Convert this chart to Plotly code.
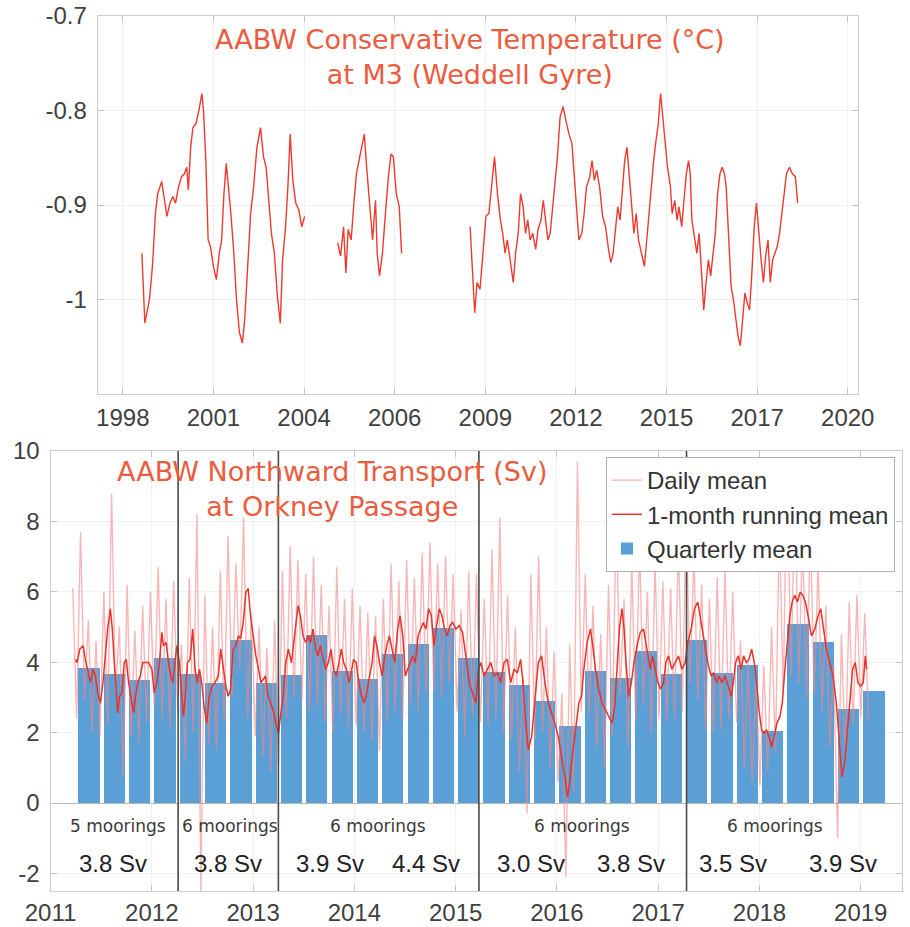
import numpy as np
import plotly.graph_objects as go

# ---------------- Top panel: AABW conservative temperature at M3 ----------------
temp_year = [
    1998.58, 1998.67, 1998.81, 1998.90, 1998.99, 1999.06, 1999.18, 1999.27, 1999.34, 1999.43,
    1999.52, 1999.60, 1999.69, 1999.78, 1999.87, 1999.94, 1999.99, 2000.06, 2000.13, 2000.22,
    2000.31, 2000.40, 2000.45, 2000.52, 2000.59, 2000.66, 2000.75, 2000.84, 2000.93, 2001.00,
    2001.07, 2001.14, 2001.21, 2001.28, 2001.37, 2001.45, 2001.54, 2001.63, 2001.70, 2001.79,
    2001.88, 2001.97, 2002.07, 2002.18, 2002.27, 2002.35, 2002.42, 2002.51, 2002.60, 2002.69,
    2002.78, 2002.85, 2002.94, 2003.01, 2003.08, 2003.16, 2003.25, 2003.34, 2003.43, 2003.52,
    None,
    2004.52, 2004.61, 2004.70, 2004.77, 2004.84, 2004.93, 2005.02, 2005.09, 2005.19, 2005.28,
    2005.33, 2005.40, 2005.49, 2005.58, 2005.67, 2005.72, 2005.79, 2005.88, 2005.97, 2006.06,
    2006.14, 2006.21, 2006.30, 2006.39, 2006.46,
    None,
    2008.54, 2008.63, 2008.68, 2008.75, 2008.84, 2008.93, 2009.02, 2009.11, 2009.19, 2009.28,
    2009.37, 2009.46, 2009.53, 2009.60, 2009.67, 2009.76, 2009.85, 2009.92, 2010.00, 2010.07,
    2010.15, 2010.22, 2010.29, 2010.36, 2010.44, 2010.53, 2010.60, 2010.69, 2010.76, 2010.83,
    2010.90, 2010.97, 2011.04, 2011.11, 2011.19, 2011.27, 2011.36, 2011.45, 2011.54, 2011.63,
    2011.68, 2011.75, 2011.84, 2011.93, 2012.00, 2012.07, 2012.17, 2012.24, 2012.31, 2012.38,
    2012.47, 2012.56, 2012.65, 2012.74, 2012.81, 2012.88, 2012.95, 2013.02, 2013.09, 2013.16,
    2013.23, 2013.30, 2013.37, 2013.44, 2013.51, 2013.58, 2013.65, 2013.74, 2013.83, 2013.90,
    2013.97, 2014.04, 2014.11, 2014.18, 2014.25, 2014.32, 2014.39, 2014.46, 2014.53, 2014.62,
    2014.67, 2014.75, 2014.82, 2014.88, 2014.96, 2015.03, 2015.10, 2015.17, 2015.22, 2015.27,
    2015.35, 2015.42, 2015.49, 2015.56, 2015.63, 2015.70, 2015.77, 2015.84, 2015.91, 2015.98,
    2016.05, 2016.12, 2016.19, 2016.26, 2016.31, 2016.39, 2016.46, 2016.53, 2016.60, 2016.67,
    2016.74, 2016.81, 2016.88, 2016.95, 2017.02, 2017.09, 2017.16, 2017.23, 2017.30, 2017.37,
    2017.44, 2017.51, 2017.58, 2017.65, 2017.72, 2017.79, 2017.86, 2017.93, 2018.00, 2018.07,
    2018.14, 2018.23, 2018.32, 2018.41, 2018.48,
]
temp_val = [
    -0.951, -1.025, -1.000, -0.965, -0.909, -0.888, -0.875, -0.898, -0.912, -0.898,
    -0.891, -0.898, -0.881, -0.870, -0.867, -0.860, -0.884, -0.839, -0.818, -0.814,
    -0.800, -0.782, -0.800, -0.853, -0.937, -0.944, -0.965, -0.979, -0.951, -0.937,
    -0.888, -0.856, -0.881, -0.909, -0.951, -1.000, -1.035, -1.046, -1.021, -0.958,
    -0.909, -0.881, -0.839, -0.818, -0.849, -0.860, -0.888, -0.930, -0.951, -0.996,
    -1.025, -0.958, -0.923, -0.881, -0.825, -0.874, -0.898, -0.905, -0.923, -0.912,
    None,
    -0.940, -0.954, -0.923, -0.972, -0.926, -0.937, -0.895, -0.867, -0.849, -0.832,
    -0.825, -0.860, -0.902, -0.937, -0.895, -0.951, -0.975, -0.951, -0.909, -0.870,
    -0.846, -0.849, -0.888, -0.902, -0.951,
    None,
    -0.923, -0.989, -1.014, -0.982, -0.989, -0.951, -0.912, -0.909, -0.881, -0.849,
    -0.888, -0.916, -0.930, -0.951, -0.937, -0.958, -0.982, -0.951, -0.930, -0.888,
    -0.902, -0.930, -0.916, -0.937, -0.930, -0.947, -0.926, -0.916, -0.895, -0.916,
    -0.937, -0.930, -0.902, -0.881, -0.849, -0.807, -0.796, -0.811, -0.825, -0.835,
    -0.860, -0.902, -0.937, -0.930, -0.909, -0.881, -0.870, -0.853, -0.874, -0.863,
    -0.881, -0.912, -0.923, -0.947, -0.961, -0.951, -0.923, -0.902, -0.916, -0.888,
    -0.853, -0.839, -0.867, -0.902, -0.930, -0.909, -0.937, -0.951, -0.965, -0.937,
    -0.909, -0.874, -0.853, -0.832, -0.814, -0.782, -0.811, -0.839, -0.860, -0.881,
    -0.909, -0.895, -0.916, -0.902, -0.923, -0.895, -0.867, -0.853, -0.867, -0.916,
    -0.937, -0.951, -0.930, -0.965, -1.011, -0.982, -0.958, -0.975, -0.951, -0.930,
    -0.888, -0.867, -0.860, -0.867, -0.881, -0.930, -0.986, -1.000, -1.021, -1.039,
    -1.049, -1.021, -0.993, -1.004, -1.011, -0.972, -0.923, -0.898, -0.930, -0.958,
    -0.982, -0.954, -0.937, -0.982, -0.958, -0.951, -0.944, -0.930, -0.909, -0.888,
    -0.867, -0.860, -0.867, -0.870, -0.898,
]
top_tick_pos = [1998, 2000.75, 2003.5, 2006.25, 2009, 2011.75, 2014.5, 2017.25, 2020]
top_tick_text = ["1998", "2001", "2004", "2006", "2009", "2012", "2015", "2017", "2020"]
temp_ticks = [-1.0, -0.9, -0.8, -0.7]
temp_tick_text = ["-1", "-0.9", "-0.8", "-0.7"]

# ---------------- Bottom panel: AABW transport at Orkney Passage ----------------
quarter_mid = [
    2011.375, 2011.625, 2011.875, 2012.125, 2012.375, 2012.625, 2012.875, 2013.125,
    2013.375, 2013.625, 2013.875, 2014.125, 2014.375, 2014.625, 2014.875, 2015.125,
    2015.375, 2015.625, 2015.875, 2016.125, 2016.375, 2016.625, 2016.875, 2017.125,
    2017.375, 2017.625, 2017.875, 2018.125, 2018.375, 2018.625, 2018.875, 2019.125,
]
quarterly_mean = [
    3.85, 3.67, 3.49, 4.13, 3.67, 3.42, 4.64, 3.42,
    3.63, 4.78, 3.75, 3.51, 4.23, 4.51, 4.96, 4.13,
    3.72, 3.34, 2.89, 2.19, 3.75, 3.56, 4.32, 3.67,
    4.63, 3.70, 3.92, 2.05, 5.09, 4.58, 2.68, 3.18,
]

# 1-month running mean: time in years since 2011-01-01, value in Sv
rm_t = [
    0.246, 0.262, 0.289, 0.322, 0.344, 0.367, 0.394, 0.420, 0.443, 0.466,
    0.492, 0.518, 0.541, 0.564, 0.591, 0.610, 0.630, 0.650, 0.663, 0.682,
    0.705, 0.728, 0.748, 0.771, 0.794, 0.820, 0.840, 0.860, 0.886, 0.912,
    0.935, 0.968, 1.001, 1.024, 1.050, 1.076, 1.099, 1.115, 1.142, 1.165,
    1.188, 1.207, 1.230, 1.247, 1.273, 1.296, 1.312, 1.332, 1.352, 1.378,
    1.404, 1.427, 1.450, 1.470, 1.493, 1.516, 1.542, 1.568, 1.594, 1.624,
    1.657, 1.680, 1.706, 1.732, 1.755, 1.778, 1.804, 1.831, 1.854, 1.877,
    1.903, 1.929, 1.952, 1.975, 2.001, 2.028, 2.054, 2.077, 2.100, 2.123,
    2.149, 2.172, 2.198, 2.224, 2.251, 2.270, 2.297, 2.323, 2.349, 2.379,
    2.402, 2.421, 2.444, 2.467, 2.493, 2.520, 2.546, 2.566, 2.592, 2.618,
    2.641, 2.664, 2.690, 2.717, 2.743, 2.769, 2.795, 2.822, 2.848, 2.871,
    2.894, 2.920, 2.946, 2.969, 2.992, 3.018, 3.045, 3.071, 3.097, 3.123,
    3.150, 3.176, 3.199, 3.222, 3.248, 3.274, 3.297, 3.320, 3.346, 3.373,
    3.399, 3.428, 3.451, 3.478, 3.504, 3.527, 3.550, 3.576, 3.602, 3.629,
    3.655, 3.681, 3.707, 3.734, 3.760, 3.786, 3.812, 3.839, 3.865, 3.891,
    3.917, 3.944, 3.970, 4.003, 4.035, 4.068, 4.101, 4.134, 4.167, 4.199,
    4.226, 4.249, 4.281, 4.314, 4.347, 4.380, 4.413, 4.445, 4.478, 4.511,
    4.544, 4.577, 4.610, 4.642, 4.665, 4.692, 4.718, 4.751, 4.783, 4.816,
    4.849, 4.882, 4.915, 4.947, 4.980, 5.013, 5.046, 5.079, 5.105, 5.125,
    5.151, 5.184, 5.217, 5.243, 5.266, 5.299, 5.331, 5.354, 5.381, 5.413,
    5.446, 5.479, 5.512, 5.545, 5.571, 5.594, 5.617, 5.643, 5.663, 5.682,
    5.709, 5.735, 5.761, 5.791, 5.823, 5.856, 5.889, 5.922, 5.945, 5.971,
    5.997, 6.024, 6.053, 6.076, 6.102, 6.135, 6.168, 6.201, 6.234, 6.266,
    6.293, 6.325, 6.358, 6.391, 6.424, 6.457, 6.490, 6.522, 6.549, 6.575,
    6.601, 6.627, 6.660, 6.693, 6.719, 6.742, 6.765, 6.791, 6.818, 6.844,
    6.870, 6.896, 6.923, 6.949, 6.972, 6.995, 7.021, 7.047, 7.070, 7.093,
    7.120, 7.146, 7.172, 7.202, 7.225, 7.251, 7.277, 7.300, 7.323, 7.349,
    7.375, 7.402, 7.428, 7.454, 7.480, 7.513, 7.546, 7.579, 7.605, 7.631,
    7.661, 7.694, 7.726, 7.759, 7.792, 7.815, 7.841, 7.867, 7.894, 7.920,
    7.946, 7.973, 7.999, 8.025, 8.045, 8.058,
]
rm_val = [
    4.08, 3.99, 4.37, 4.47, 4.08, 3.80, 3.42, 3.80, 3.61, 3.13,
    2.84, 3.42, 4.18, 4.94, 5.52, 4.94, 3.99, 3.03, 2.56, 3.03,
    3.13, 3.99, 4.08, 3.42, 3.03, 2.56, 3.03, 3.42, 3.61, 3.99,
    3.99, 3.99, 3.80, 3.13, 3.42, 3.99, 4.85, 4.47, 4.56, 3.99,
    3.61, 3.42, 3.99, 4.47, 3.99, 3.03, 2.46, 3.03, 3.99, 4.08,
    4.94, 3.80, 3.42, 3.80, 3.42, 2.75, 2.27, 3.03, 3.32, 3.42,
    3.61, 4.37, 3.80, 3.32, 3.03, 3.23, 4.37, 4.47, 4.75, 4.66,
    5.13, 5.99, 6.09, 5.32, 4.75, 4.18, 3.80, 3.42, 3.51, 3.61,
    3.03, 2.84, 2.65, 2.27, 1.98, 2.46, 3.03, 3.99, 4.37, 3.99,
    4.56, 5.13, 5.61, 5.32, 4.75, 4.56, 4.75, 4.56, 4.94, 4.37,
    4.18, 4.47, 4.18, 3.80, 3.99, 4.37, 3.80, 3.61, 3.99, 4.37,
    3.99, 3.80, 3.42, 3.70, 4.08, 3.99, 3.42, 3.03, 2.84, 3.13,
    3.61, 3.99, 4.75, 4.47, 3.99, 3.61, 4.08, 4.47, 4.75, 4.37,
    3.99, 4.94, 5.32, 4.75, 3.61, 3.80, 3.99, 4.18, 3.99, 4.75,
    4.94, 5.13, 4.94, 5.52, 5.32, 4.47, 5.04, 5.52, 5.32, 4.94,
    4.75, 5.04, 5.13, 4.94, 5.04, 4.85, 4.18, 3.42, 3.13, 2.84,
    3.80, 3.99, 3.61, 3.80, 3.99, 3.61, 3.70, 3.42, 3.99, 4.08,
    3.42, 3.80, 3.70, 4.08, 3.42, 2.27, 1.51, 1.89, 3.03, 3.99,
    4.18, 3.42, 2.84, 2.56, 2.27, 1.89, 1.32, 0.74, 0.17, 0.55,
    1.32, 2.08, 2.84, 3.03, 3.80, 4.56, 4.94, 4.47, 3.80, 3.23,
    2.84, 2.65, 2.46, 2.27, 2.75, 3.80, 4.94, 5.52, 4.94, 3.99,
    3.03, 3.42, 3.99, 4.47, 4.85, 4.94, 4.37, 3.80, 4.18, 3.80,
    3.42, 3.23, 3.42, 3.99, 4.18, 3.80, 3.99, 4.18, 3.80, 3.99,
    4.56, 4.94, 5.52, 5.71, 5.13, 4.56, 3.99, 3.61, 3.70, 3.42,
    3.61, 3.42, 3.61, 3.32, 3.03, 3.42, 3.99, 4.18, 3.80, 4.18,
    3.99, 4.08, 4.37, 3.99, 3.42, 2.65, 2.08, 1.98, 2.08, 1.89,
    1.60, 1.89, 2.27, 2.46, 2.84, 3.80, 4.75, 5.32, 5.71, 5.90,
    5.71, 5.99, 5.90, 5.71, 5.32, 4.75, 4.94, 5.32, 5.52, 4.94,
    4.37, 3.99, 3.61, 2.84, 1.70, 0.74, 1.13, 2.08, 3.03, 3.80,
    3.99, 3.42, 3.32, 3.42, 4.18, 3.80,
]

# Daily mean (shown every 14 days, alternating highs and lows), Sv
daily_val = [
    6.1, 2.4, 7.7, 2.9, 5.2, 2.0, 4.6, 1.9, 6.0, 2.2, 8.8, 3.1, 5.0, 0.8, 6.2, 1.9, 4.9, 1.7, 5.6, 2.3, 6.0, 2.8, 6.7, 2.4, 5.8, 2.1,
    6.3, 2.6, 4.5, 1.2, 6.4, 2.0, 8.2, -2.5, 5.9, 1.7, 5.0, 1.5, 6.6, 2.3, 7.6, 3.0, 6.8, 3.8, 8.1, 2.4, 5.4, 1.9, 5.0, 1.3, 4.4, 0.9,
    5.2, 1.1, 6.6, 2.4, 7.3, 3.0, 6.9, 2.9, 6.5, 2.6, 7.0, 2.8, 6.2, 2.3, 5.6, 2.0, 6.7, 2.5, 5.8, 2.1, 6.1, 2.2, 5.6, 2.0, 5.4, 1.8,
    5.3, 1.5, 5.8, 2.3, 6.8, 2.6, 6.3, 2.4, 6.9, 2.8, 6.4, 2.6, 7.1, 3.1, 7.4, 3.2, 6.8, 3.0, 7.0, 3.4, 6.5, 2.6, 5.5, 1.9, 6.6, 2.5,
    6.5, 2.3, 5.8, 2.2, 7.2, 2.4, 8.1, 2.0, 5.9, 1.8, 5.0, 0.9, 3.6, -0.3, 6.5, 1.8, 7.0, 2.0, 5.0, 1.0, 4.3, 0.6, 3.1, -2.1, 4.5, 0.3,
    9.7, 2.6, 6.5, 2.5, 5.6, 1.6, 4.8, 1.0, 6.2, 1.9, 8.4, 3.0, 5.8, 1.6, 6.8, 2.4, 7.4, 2.8, 6.0, 2.0, 6.8, 2.4, 6.3, 2.3, 6.1, 2.4,
    7.5, 2.6, 8.2, 3.4, 7.0, 2.9, 6.2, 2.1, 5.8, 2.0, 6.4, 2.1, 6.6, 2.4, 6.0, 2.3, 4.6, 1.0, 4.0, 0.6, 3.6, 0.5, 3.9, 0.9, 5.0, 1.4,
    8.0, 3.1, 9.8, 3.6, 8.8, 3.4, 7.6, 3.0, 7.8, 3.1, 6.8, 2.6, 5.6, 1.6, 3.9, -1.0, 4.8, 1.2, 5.7, 2.2, 5.9, 2.4, 5.4, 2.3,
]
daily_start = 2011.22
daily_step_days = 14

deployment_breaks = [2012.26, 2013.25, 2015.23, 2017.28]
mooring_labels = ["5 moorings", "6 moorings", "6 moorings", "6 moorings", "6 moorings"]
annual_means = ["3.8 Sv", "3.8 Sv", "3.9 Sv", "4.4 Sv", "3.0 Sv", "3.8 Sv", "3.5 Sv", "3.9 Sv"]
bottom_years = list(range(2011, 2020))
transport_ticks = [-2, 0, 2, 4, 6, 8, 10]

# ---------------- Build figure ----------------
rm_year = [2011 + t for t in rm_t]
daily_year = daily_start + np.arange(len(daily_val)) * daily_step_days / 365.25

TICKFONT = dict(family="Liberation Sans, Arial, sans-serif", size=24, color="#404040")
RED = "#EE3A2E"
TITLE_RED = "#EC5B3E"

fig = go.Figure()
fig.add_trace(go.Scatter(
    x=temp_year, y=temp_val, mode="lines", connectgaps=False,
    line=dict(color=RED, width=1.4), showlegend=False, xaxis="x", yaxis="y"))

fig.add_trace(go.Bar(
    x=quarter_mid, y=quarterly_mean, width=0.21, name="Quarterly mean",
    marker=dict(color="#5A9FD6", line=dict(width=0)), xaxis="x2", yaxis="y2", legendrank=3))
fig.add_trace(go.Scatter(
    x=daily_year, y=daily_val, mode="lines", name="Daily mean",
    line=dict(color="rgba(244,135,135,0.6)", width=1.4), xaxis="x2", yaxis="y2", legendrank=1))
fig.add_trace(go.Scatter(
    x=rm_year, y=rm_val, mode="lines", name="1-month running mean",
    line=dict(color="#E8332B", width=1.5), xaxis="x2", yaxis="y2", legendrank=2))

shapes = []
for b in deployment_breaks:
    shapes.append(dict(type="line", xref="x2", yref="y2 domain", x0=b, x1=b, y0=0, y1=1,
                       line=dict(color="#4a4a4a", width=1.6), layer="above"))

annotations = [
    dict(text="AABW Conservative Temperature (°C)<br>at M3 (Weddell Gyre)",
         xref="paper", yref="paper", x=0.5165, y=0.9385, xanchor="center", yanchor="middle",
         showarrow=False, align="center",
         font=dict(family="DejaVu Sans, sans-serif", size=27, color=TITLE_RED)),
    dict(text="AABW Northward Transport (Sv)<br>at Orkney Passage",
         xref="paper", yref="paper", x=0.365, y=0.4725, xanchor="center", yanchor="middle",
         showarrow=False, align="center",
         font=dict(family="DejaVu Sans, sans-serif", size=27, color=TITLE_RED)),
]
mooring_x = [2011.67, 2012.77, 2014.23, 2016.25, 2018.15]
for xm, lab in zip(mooring_x, mooring_labels):
    annotations.append(dict(text=lab, xref="x2", yref="y2", x=xm, y=-0.64, showarrow=False,
                            xanchor="center", yanchor="middle",
                            font=dict(family="DejaVu Sans, sans-serif", size=17, color="#3a3a3a")))
sv_x = [2011.62, 2012.75, 2013.76, 2014.71, 2015.74, 2016.73, 2017.74, 2018.82]
for xs, lab in zip(sv_x, annual_means):
    annotations.append(dict(text=lab, xref="x2", yref="y2", x=xs, y=-1.72, showarrow=False,
                            xanchor="center", yanchor="middle",
                            font=dict(family="Liberation Sans, Arial, sans-serif", size=24, color="#222222")))

axis_common = dict(showline=True, linecolor="#cdcdcd", linewidth=1.2, mirror="allticks",
                   ticks="inside", ticklen=6, tickcolor="#c4c4c4", tickwidth=1,
                   showgrid=True, gridcolor="#f1f1f1", gridwidth=1,
                   tickfont=TICKFONT, zeroline=False, automargin=False)

fig.update_layout(
    width=910, height=927,
    margin=dict(l=0, r=0, t=0, b=0),
    paper_bgcolor="white", plot_bgcolor="white",
    bargap=0,
    xaxis=dict(domain=[0.1074, 0.9432], anchor="y", range=[1997.24, 2020.32],
               tickmode="array", tickvals=top_tick_pos, ticktext=top_tick_text,
               ticklabelstandoff=2, **axis_common),
    yaxis=dict(domain=[0.5750, 0.9827], anchor="x", range=[-1.1, -0.7],
               tickmode="array", tickvals=temp_ticks, ticktext=temp_tick_text,
               ticklabelstandoff=5, **axis_common),
    xaxis2=dict(domain=[0.0555, 0.9915], anchor="y2", range=[2011.0, 2019.41],
                tickmode="array", tickvals=bottom_years, ticktext=[str(y) for y in bottom_years],
                ticklabelstandoff=0, **axis_common),
    yaxis2=dict(domain=[0.0388, 0.5135], anchor="x2", range=[-2.5, 10],
                tickmode="array", tickvals=transport_ticks, ticktext=[str(v) for v in transport_ticks],
                ticklabelstandoff=5, **{**axis_common, "zeroline": True},
                zerolinecolor="#b8b8b8", zerolinewidth=1),
    legend=dict(x=0.9835, xanchor="right", y=0.507, yanchor="top",
                bgcolor="white", bordercolor="#b0b0b0", borderwidth=1,
                font=dict(family="Liberation Sans, Arial, sans-serif", size=24, color="#333333"),
                tracegroupgap=0, itemwidth=30),
    shapes=shapes,
    annotations=annotations,
)

fig.write_html("out.html")
